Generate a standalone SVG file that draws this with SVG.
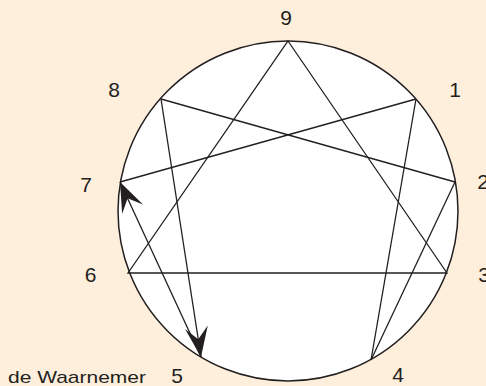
<svg xmlns="http://www.w3.org/2000/svg" width="486" height="386" viewBox="0 0 486 386">
<style>
.ln{stroke:#231f20;stroke-width:1.3;fill:none}
.num{font-family:"Liberation Sans",Arial,sans-serif;font-size:21px;fill:#231f20;text-anchor:middle}
.lbl{font-family:"Liberation Sans",Arial,sans-serif;font-size:17px;fill:#231f20}
</style>
<defs>
<marker id="ah" markerUnits="userSpaceOnUse" viewBox="-32 -13 34 26" refX="0" refY="0" markerWidth="34" markerHeight="26" orient="auto">
<path d="M0,0 L-30,-11.5 L-18,0 L-30,11.5 Z" fill="#231f20"/>
</marker>
</defs>
<rect width="486" height="386" fill="#fdefdc"/>
<g id="circle">
<circle cx="288" cy="211" r="170" fill="#ffffff" stroke="#231f20" stroke-width="1.5"/>
</g>
<g id="connectors">
<path class="ln" d="M288,41 L447,273 L128,273 Z"/>
<path class="ln" d="M416,99 L371,360"/>
<path class="ln" d="M371,360 L455,182"/>
<path class="ln" d="M455,182 L161,99"/>
<path class="ln" d="M161,99 L201,357" marker-end="url(#ah)"/>
<path class="ln" d="M201,357 L120,182" marker-end="url(#ah)"/>
<path class="ln" d="M120,182 L416,99"/>
</g>
<g id="n9"><text class="num" x="286" y="25">9</text></g>
<g id="n1"><text class="num" x="455" y="97">1</text></g>
<g id="n2"><text class="num" x="483" y="189">2</text></g>
<g id="n3"><text class="num" x="484" y="282">3</text></g>
<g id="n4"><text class="num" x="398" y="382">4</text></g>
<g id="n5"><text class="num" x="177" y="383">5</text></g>
<g id="n6"><text class="num" x="90.5" y="282">6</text></g>
<g id="n7"><text class="num" x="86" y="192">7</text></g>
<g id="n8"><text class="num" x="114" y="97">8</text></g>
<g id="observer"><text class="lbl" x="8" y="383" textLength="138" lengthAdjust="spacingAndGlyphs">de Waarnemer</text></g>
</svg>
